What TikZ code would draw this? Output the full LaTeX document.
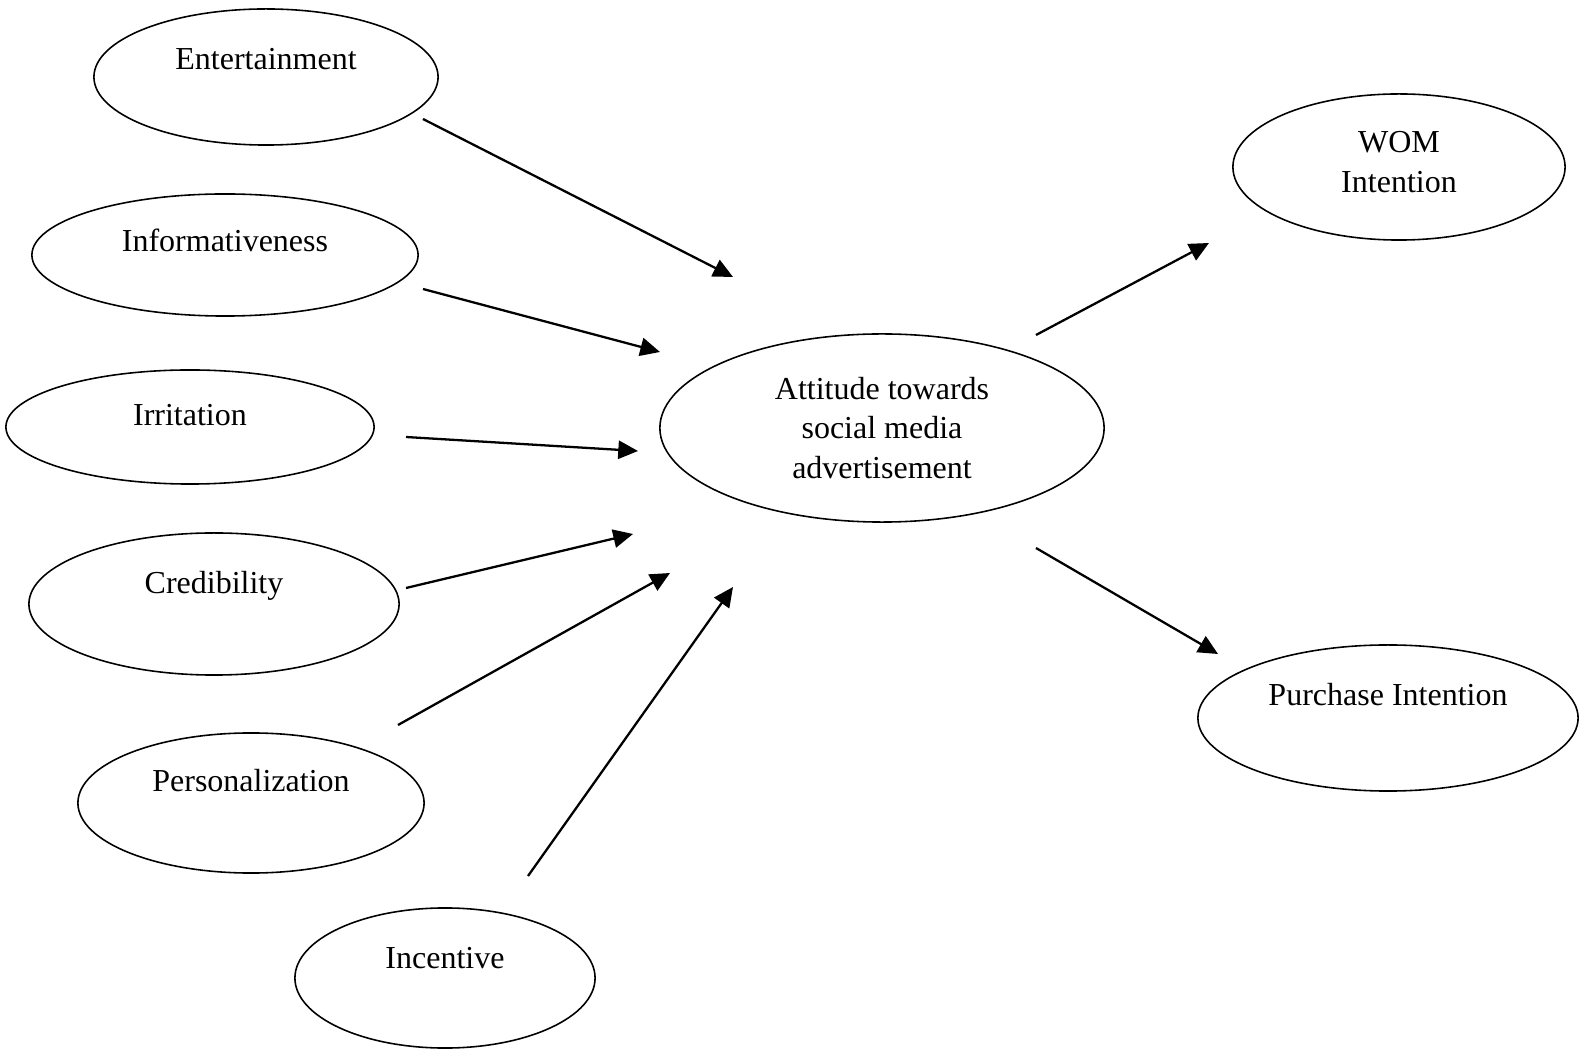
\documentclass[tikz,border=0pt]{standalone}
\usepackage{fontspec}
\setmainfont{Liberation Serif}
\usetikzlibrary{arrows.meta,shapes.geometric}
\tikzset{
  construct/.style={ellipse,draw,line width=0.45pt,inner sep=0pt},
  construct label/.style={font=\fontsize{9.1}{11.2}\selectfont,inner sep=0pt,align=center},
  path arrow/.style={-{Triangle[length=5.6pt,width=5.2pt]},line width=0.65pt}
}
\begin{document}
\begin{tikzpicture}[x=0.01cm,y=-0.01cm]
        \useasboundingbox (0,0) rectangle (1587,1049);
        % constructs
        \foreach \n/\x/\y/\w/\h/\ty/\t in {ent/266/77/3.44/1.36/59/Entertainment,
            inf/225/255/3.86/1.22/240/Informativeness,
            irr/190/427/3.68/1.14/415/Irritation,
            cred/214/604/3.70/1.42/586/Credibility,
            pers/251/803/3.46/1.40/781/Personalization,
            inc/445/978/3.00/1.40/958/Incentive,
            att/882/428/4.44/1.88/428/{Attitude towards\\social media\\advertisement},
            wom/1399/167/3.32/1.46/162/{WOM\\Intention},
            pur/1388/718/3.80/1.46/695/Purchase Intention}
          {
          \node[construct,minimum width=\w cm,minimum height=\h cm] (\n) at (\x,\y) {};
          \node[construct label] (\n-text) at (\x,\ty) {\t};
          }
        % paths
        \foreach \n/\ax/\ay/\bx/\by in {ent/423/119/733/277,inf/423/289/660/352,irr/406/437/638/451,
            cred/406/588/633/534,pers/398/725/670/573,inc/528/876/733/587,
            wom/1036/335/1209/243,pur/1036/548/1218/654}
          {
          \coordinate (\n-out) at (\ax,\ay);
          \coordinate (\n-in) at (\bx,\by);
          \draw[path arrow] (\n-out) -- (\n-in);
          }
      \end{tikzpicture}
\end{document}
